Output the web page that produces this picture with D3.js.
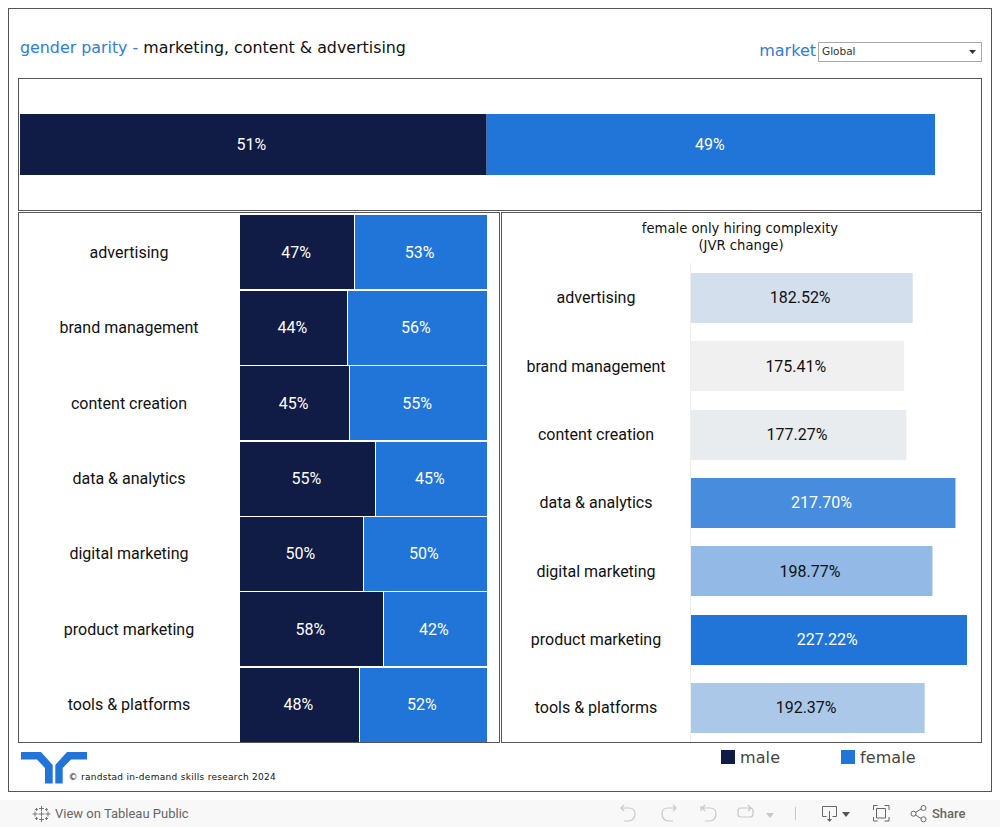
<!DOCTYPE html>
<html><head><meta charset="utf-8">
<script src="https://cdn.jsdelivr.net/npm/d3@7"></script>
<style>
html,body{margin:0;padding:0;background:#fff;overflow:hidden}
svg{display:block}
.dj{font-family:"DejaVu Sans",sans-serif}
.rb{font-family:Roboto,sans-serif}
</style></head><body>
<svg id="c" width="1000" height="827"></svg>
<script>
const categories=["advertising","brand management","content creation","data & analytics","digital marketing","product marketing","tools & platforms"];
const maleShare=[46.6,43.6,44.6,54.9,50.0,58.2,48.4];
const maleLabels=["47%","44%","45%","55%","50%","58%","48%"];
const femaleLabels=["53%","56%","55%","45%","50%","42%","52%"];
const jvrChange=[182.52,175.41,177.27,217.70,198.77,227.22,192.37];
const overallGender=["male","female"];
const overallShare=[51,49];
const NAVY="#101b46",BLUE="#2175d9",FRAME="#555";

const svg=d3.select("#c");
const frame=(x0,y0,x1,y1,c=FRAME)=>svg.append("rect").attr("x",x0).attr("y",y0).attr("width",x1-x0).attr("height",y1-y0).attr("fill","none").attr("stroke",c);
frame(8.5,8.5,991.5,791.5);
frame(18.5,78.5,981.5,210.5);
frame(18.5,212.5,499.5,742.5);
frame(501.5,212.5,981.5,742.5);

// title
const t=svg.append("text").attr("class","dj").attr("x",20).attr("y",53).attr("font-size",15.85);
t.append("tspan").attr("fill","#2f7ddb").text("gender parity - ");
t.append("tspan").attr("fill","#111").text("marketing, content & advertising");
svg.append("text").attr("class","dj").attr("x",816).attr("y",56).attr("text-anchor","end").attr("font-size",16).attr("fill","#2f7ddb").text("market");
svg.append("rect").attr("x",818.5).attr("y",42.5).attr("width",163).attr("height",19).attr("fill","#fff").attr("stroke","#aaa");
svg.append("text").attr("class","dj").attr("x",822).attr("y",55).attr("font-size",10.5).attr("fill","#333").text("Global");
svg.append("path").attr("d","M969 50h7l-3.500 4z").attr("fill","#333");

// overall bar
const xTop=d3.scaleLinear().domain([0,100]).range([20,935]);
let cum=0;
overallGender.forEach((g,i)=>{
  const a=cum,b=cum+overallShare[i];cum=b;
  svg.append("rect").attr("x",xTop(a)).attr("y",114).attr("width",xTop(b)-xTop(a)).attr("height",61).attr("fill",i?BLUE:NAVY);
  svg.append("text").attr("class","rb").attr("x",(xTop(a)+xTop(b))/2-(i?1:2)).attr("y",150).attr("text-anchor","middle").attr("font-size",16).attr("fill","#fff").text(overallShare[i]+"%");
});

// left panel
const yL=d3.scaleBand().domain(categories).range([215.4,741.84]).paddingInner(0.018);
const xL=d3.scaleLinear().domain([0,100]).range([240,487]);
const midL=c=>yL(c)+yL.bandwidth()/2+5.3;
const rows=svg.append("g").selectAll("g").data(categories).join("g");
rows.append("text").attr("class","rb").attr("x",129).attr("y",midL).attr("text-anchor","middle").attr("font-size",16).attr("fill","#111").text(c=>c);
rows.append("rect").attr("x",xL(0)).attr("y",c=>Math.round(yL(c))).attr("height",74)
  .attr("width",(c,i)=>Math.round(xL(maleShare[i]))-xL(0)-1).attr("fill",NAVY);
rows.append("rect").attr("x",(c,i)=>Math.round(xL(maleShare[i]))).attr("y",c=>Math.round(yL(c))).attr("height",74)
  .attr("width",(c,i)=>xL(100)-Math.round(xL(maleShare[i]))).attr("fill",BLUE);
rows.append("text").attr("class","rb").attr("x",(c,i)=>(xL(0)+xL(maleShare[i]))/2-1.5).attr("y",midL).attr("text-anchor","middle").attr("font-size",16).attr("fill","#fff").text((c,i)=>maleLabels[i]);
rows.append("text").attr("class","rb").attr("x",(c,i)=>(xL(100)+xL(maleShare[i]))/2-1.5).attr("y",midL).attr("text-anchor","middle").attr("font-size",16).attr("fill","#fff").text((c,i)=>femaleLabels[i]);

// right panel
svg.append("text").attr("class","dj").attr("x",740).attr("y",233).attr("text-anchor","middle").attr("font-size",13.2).attr("fill","#111").text("female only hiring complexity");
svg.append("text").attr("class","dj").attr("x",741).attr("y",250).attr("text-anchor","middle").attr("font-size",13.2).attr("fill","#111").text("(JVR change)");
const yR=d3.scaleBand().domain(categories).range([273,733]).paddingInner(0.268);
const xR=d3.scaleLinear().domain([0,227.22]).range([691,967]);
const colR=d3.scaleLinear().domain([175.41,227.22]).range(["#f0f0f0",BLUE]);
svg.append("line").attr("x1",690.5).attr("x2",690.5).attr("y1",263).attr("y2",742).attr("stroke","#eee");
const rr=svg.append("g").selectAll("g").data(categories).join("g");
rr.append("rect").attr("x",xR(0)).attr("y",c=>Math.round(yR(c))).attr("height",50).attr("width",(c,i)=>xR(jvrChange[i])-xR(0)).attr("fill",(c,i)=>colR(jvrChange[i]));
rr.append("text").attr("class","rb").attr("x",596).attr("y",c=>yR(c)+30.3).attr("text-anchor","middle").attr("font-size",16).attr("fill","#111").text(c=>c);
rr.append("text").attr("class","rb").attr("x",(c,i)=>(xR(0)+xR(jvrChange[i]))/2-1.7).attr("y",c=>yR(c)+30.3).attr("text-anchor","middle").attr("font-size",16)
  .attr("fill",(c,i)=>jvrChange[i]>210?"#fff":"#111").text((c,i)=>d3.format(".2f")(jvrChange[i])+"%");

// logo
svg.append("path").attr("fill",BLUE).attr("d","M21 752H41L52.700 765V783.500H45V768L37 759.500H21Z");
svg.append("path").attr("fill",BLUE).attr("d","M87 752H67L55.300 765V783.500H62.700V768L71 759.500H87Z");
svg.append("text").attr("class","dj").attr("x",68.500).attr("y",780).attr("font-size",9).attr("letter-spacing",0.29).attr("fill","#111").text("© randstad in-demand skills research 2024");

// legend
[["male",721,NAVY,740],["female",841,BLUE,860]].forEach(([l,x,c,tx])=>{
  svg.append("rect").attr("x",x).attr("y",750).attr("width",14).attr("height",14).attr("fill",c);
  svg.append("text").attr("class","dj").attr("x",tx).attr("y",763).attr("font-size",16).attr("letter-spacing",0.1).attr("fill","#444").text(l);
});

// toolbar
svg.append("rect").attr("x",0).attr("y",800).attr("width",1000).attr("height",27).attr("fill","#f8f8f8");
const tg=svg.append("g").attr("fill","none").attr("stroke","#777").attr("stroke-width",1);
tg.append("path").attr("d","M41.500 806v5M39 808.500h5M41.500 817v5M39 819.500h5M41.500 811.500v5M38.500 814h6M35 811.500v5M32.500 814h5M48 811.500v5M45.500 814h5M36.500 808v3M35 809.500h3M46.500 808v3M45 809.500h3M36.500 817v3M35 818.500h3M46.500 817v3M45 818.500h3");
svg.append("text").attr("class","rb").attr("x",55).attr("y",818).attr("font-size",13).attr("fill","#666").text("View on Tableau Public");
const dis=svg.append("g").attr("fill","none").attr("stroke","#c8c8c8").attr("stroke-width",1.2);
dis.append("path").attr("d","M621 808h8q6 0 6 6t-6 7h-5M624 805l-3 3 3 3");
dis.append("path").attr("d","M676 808h-8q-6 0-6 6t6 7h5M673 805l3 3-3 3");
dis.append("path").attr("d","M702 808h8q6 0 6 6t-6 7h-5M705 805l-3 3 3 3M701 806v5");
dis.append("path").attr("d","M741 808h9q3 0 3 3v3q0 3-3 3h-9q-3 0-3-3v-3q0-3 3-3M748 805l3 3-3 3");
svg.append("path").attr("d","M766 813h8l-4 5z").attr("fill","#c8c8c8");
svg.append("line").attr("x1",795.500).attr("x2",795.500).attr("y1",807).attr("y2",820).attr("stroke","#c8c8c8");
const act=svg.append("g").attr("fill","none").attr("stroke","#666").attr("stroke-width",1);
act.append("path").attr("d","M826.500 816.500h-4v-10h14v10h-4M829.500 811v8");
svg.append("path").attr("d","M827 819h5l-2.500 3z").attr("fill","#666");
svg.append("path").attr("d","M842 812h8l-4 5z").attr("fill","#555");
act.append("path").attr("d","M873.500 810v-4.500h4M884.500 805.500h4.500v4.500M889 817v4h-4.500M877.500 821h-4v-4M876.500 808.500h9v9.500h-9z");
act.append("path").attr("d","M915.500 812.500l5.500-3.500M915.500 815l5.500 3.500");
act.append("circle").attr("cx",913.500).attr("cy",813.700).attr("r",2.500);
act.append("circle").attr("cx",923.500).attr("cy",808).attr("r",2.500);
act.append("circle").attr("cx",923.500).attr("cy",819.300).attr("r",2.500);
svg.append("text").attr("class","rb").attr("x",932).attr("y",818).attr("font-size",13).attr("font-weight",500).attr("fill","#666").text("Share");
</script></body></html>
